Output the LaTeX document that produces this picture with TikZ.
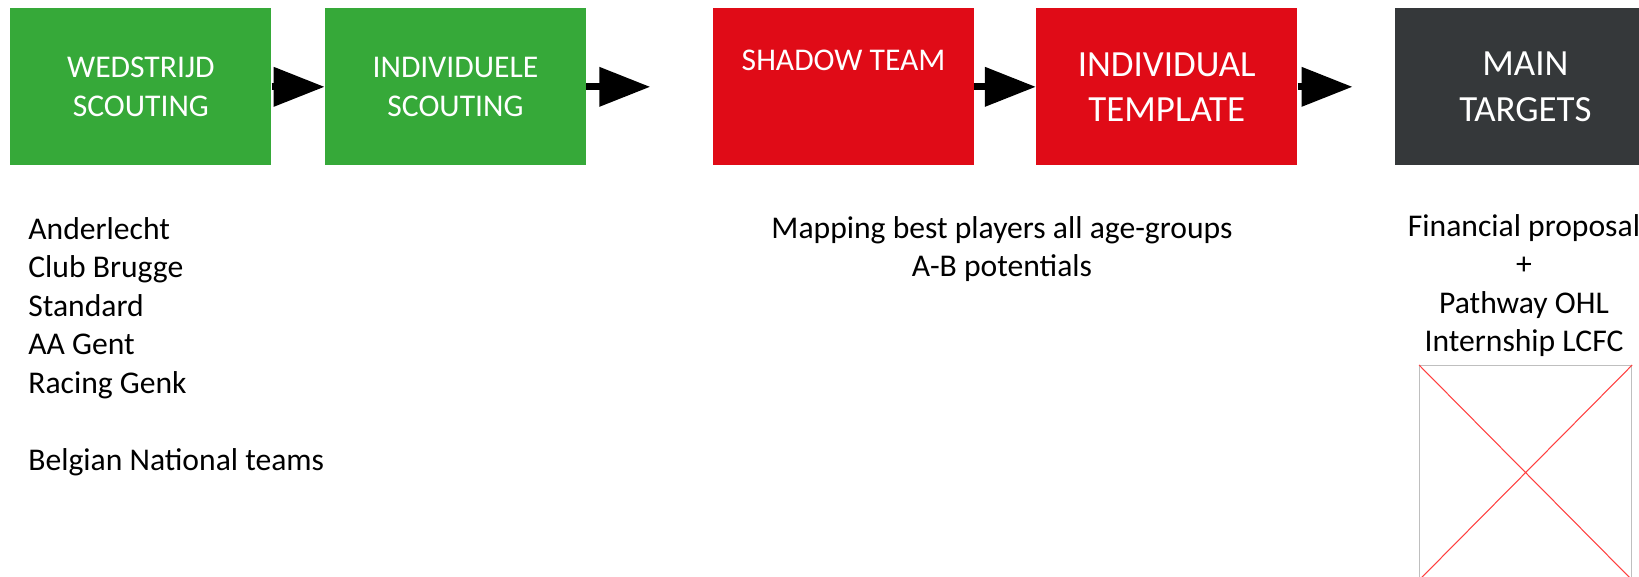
\documentclass[tikz,border=0pt]{standalone}
\usepackage{fontspec}
\setmainfont{Carlito}
\usetikzlibrary{positioning,arrows.meta}
\definecolor{scoutgreen}{RGB}{54,169,57}
\definecolor{scoutred}{RGB}{224,11,23}
\definecolor{scoutdark}{RGB}{53,56,58}

\begin{document}
\begin{tikzpicture}[x=0.02cm,y=-0.02cm]
    \tikzset{step box/.style = {rectangle, minimum width=5.22cm, minimum height=3.14cm, text=white, align=center, font=\fontsize{18}{22.5}\selectfont},
             big box/.style = {step box, font=\fontsize{21}{25.8}\selectfont},
             note/.style = {inner sep=0pt, font=\fontsize{18}{21.9}\selectfont},
             flow/.style = {-{Triangle[length=1.02cm,width=0.76cm]}, line width=4pt}}
    \clip (0,0) rectangle (1639,577);
    %% scouting
    \node[step box, fill=scoutgreen, anchor=north west] (ws) at (10,8) {WEDSTRIJD\\SCOUTING};
    \node[step box, fill=scoutgreen] (is) [right = 1.06cm of ws] {INDIVIDUELE\\SCOUTING};
    \coordinate[right = 1.28cm of is.east] (gap);
    %% shadow team
    \node[step box, fill=scoutred] (st) [right = 2.53cm of is]
        [label={[anchor=center, yshift=-1.04cm, text=white, font=\fontsize{18}{22.5}\selectfont]north:SHADOW TEAM}] {};
    \node[big box, fill=scoutred] (it) [right = 1.23cm of st] {INDIVIDUAL\\TEMPLATE};
    \coordinate[right = 1.1cm of it.east] (tgt);
    \node[big box, fill=scoutdark] (mt) [right = 1.94cm of it] {MAIN\\TARGETS};
    \path[flow]
    (ws) edge (is)
    (is.east) edge (gap)
    (st) edge (it)
    (it.east) edge (tgt);
    %% texts below
    \node[note, anchor=north west, align=left] (clubs) at (28,217) {Anderlecht\\Club Brugge\\Standard\\AA Gent\\Racing Genk\\[21.9pt]Belgian National teams};
    \node[note, anchor=north, align=center] (mapping) at (1002,216) {Mapping best players all age-groups\\A-B potentials};
    \node[note, anchor=north, align=center] (offer) at (1524,214) {Financial proposal\\+\\Pathway OHL\\Internship LCFC};
    \node[draw=black!25, line width=0.7pt, minimum width=4.24cm, minimum height=4.28cm, anchor=north west] (photo) at (1419,365) {};
    \draw[red!75, line width=0.6pt] (photo.north west) -- (photo.south east)
        (photo.north east) -- (photo.south west);
\end{tikzpicture}
\end{document}
